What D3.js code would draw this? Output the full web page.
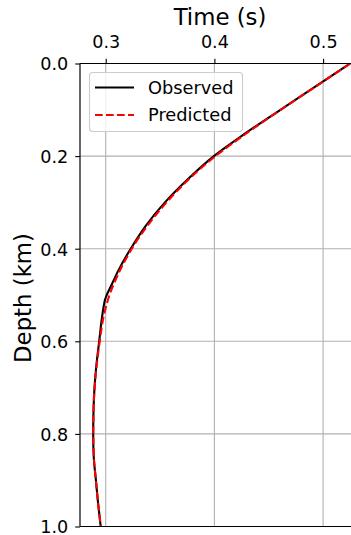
<!DOCTYPE html>
<html><head><meta charset="utf-8">
<script src="https://cdn.jsdelivr.net/npm/d3@7"></script>
<style>html,body{margin:0;padding:0;background:#fff;}svg{display:block;font-family:"DejaVu Sans",sans-serif;}</style>
</head><body>
<svg id="c" width="351" height="535"></svg>
<script>
const depths = [0.00,0.05,0.10,0.15,0.20,0.25,0.30,0.35,0.40,0.45,0.48,0.50,0.51,0.52,0.55,0.60,0.65,0.70,0.75,0.80,0.85,0.90,0.95,1.00];
const observed = [0.5248,0.4928,0.4607,0.4290,0.3995,0.3755,0.3545,0.3370,0.3230,0.3110,0.3050,0.3010,0.2994,0.2985,0.2965,0.2940,0.2915,0.2897,0.2888,0.2885,0.2890,0.2910,0.2930,0.2954];
const predDepths = [0.00,0.05,0.10,0.15,0.20,0.25,0.30,0.35,0.40,0.45,0.50,0.55,0.60,0.65,0.70,0.75,0.80,0.85,0.90,0.95,1.00];
const predicted = [0.5250,0.4930,0.4610,0.4300,0.4010,0.3765,0.3560,0.3385,0.3240,0.3125,0.3035,0.2978,0.2945,0.2918,0.2898,0.2888,0.2886,0.2891,0.2910,0.2930,0.2955];
const xTicks = [0.3,0.4,0.5];
const yTicks = [0.0,0.2,0.4,0.6,0.8,1.0];
const seriesNames = ["Observed","Predicted"];

const L=80, T=63.5, B=526.5, R=351;
const svg = d3.select("#c");
const x = d3.scaleLinear().domain([0.3-25.7/1087, 0.3+(R-105.7)/1087]).range([L,R]);
const y = d3.scaleLinear().domain([0,1]).range([T,B]);

// grid
const g = svg.append("g");
g.selectAll("line.gx").data(xTicks).join("line")
  .attr("x1",d=>x(d)).attr("x2",d=>x(d)).attr("y1",T).attr("y2",B)
  .attr("stroke","#b0b0b0").attr("stroke-width",1.1);
g.selectAll("line.gy").data(yTicks).join("line")
  .attr("x1",L).attr("x2",R).attr("y1",d=>y(d)).attr("y2",d=>y(d))
  .attr("stroke","#b0b0b0").attr("stroke-width",1.1);

// lines
const lineObs = d3.line().x(d=>x(d[1])).y(d=>y(d[0])).curve(d3.curveMonotoneY);
svg.append("path").datum(depths.map((d,i)=>[d,observed[i]]))
  .attr("d",lineObs).attr("fill","none").attr("stroke","#000").attr("stroke-width",2.1);
svg.append("path").datum(predDepths.map((d,i)=>[d,predicted[i]]))
  .attr("d",lineObs).attr("fill","none").attr("stroke","#ff0000").attr("stroke-width",2.1)
  .attr("stroke-dasharray","7.7,3.3");

// axes
const xa = svg.append("g").attr("transform",`translate(0,${T})`)
  .call(d3.axisTop(x).tickValues(xTicks).tickFormat(d3.format(".1f")).tickSize(4.8).tickPadding(5));
const ya = svg.append("g").attr("transform",`translate(${L},0)`)
  .call(d3.axisLeft(y).tickValues(yTicks).tickFormat(d3.format(".1f")).tickSize(4.8).tickPadding(7));
[xa,ya].forEach(a=>{
  a.select(".domain").remove();
  a.selectAll("text").attr("font-size",17.6).attr("fill","#000").attr("font-family","DejaVu Sans");
  a.selectAll("line").attr("stroke","#000").attr("stroke-width",1.1);
});
xa.selectAll("text").attr("dy",null).attr("y",-15.3);
ya.selectAll("text").attr("dy","0.36em");

// spines
const sp = svg.append("g").attr("stroke","#000").attr("stroke-width",1.2);
sp.append("line").attr("x1",L).attr("x2",L).attr("y1",T).attr("y2",B);
sp.append("line").attr("x1",L).attr("x2",R).attr("y1",T).attr("y2",T);
sp.append("line").attr("x1",L).attr("x2",R).attr("y1",B).attr("y2",B);

// labels
svg.append("text").attr("x",220).attr("y",25).attr("text-anchor","middle")
  .attr("font-size",22.8).text("Time (s)");
svg.append("text").attr("transform","translate(31,298) rotate(-90)").attr("text-anchor","middle")
  .attr("font-size",22.8).text("Depth (km)");

// legend
const lg = svg.append("g");
lg.append("rect").attr("x",89.5).attr("y",72.5).attr("width",153).attr("height",59).attr("rx",3)
  .attr("fill","#fff").attr("fill-opacity",0.8).attr("stroke","#cccccc").attr("stroke-width",1.1);
const ly=[87.5,115];
lg.append("line").attr("x1",95).attr("x2",134).attr("y1",ly[0]).attr("y2",ly[0]).attr("stroke","#000").attr("stroke-width",2.1);
lg.append("line").attr("x1",95).attr("x2",134).attr("y1",ly[1]).attr("y2",ly[1]).attr("stroke","#f00").attr("stroke-width",2.1).attr("stroke-dasharray","7.7,3.3");
seriesNames.forEach((n,i)=>lg.append("text").attr("x",148).attr("y",ly[i]).attr("dy","0.36em").attr("font-size",17.8).text(n));
</script>
</body></html>
